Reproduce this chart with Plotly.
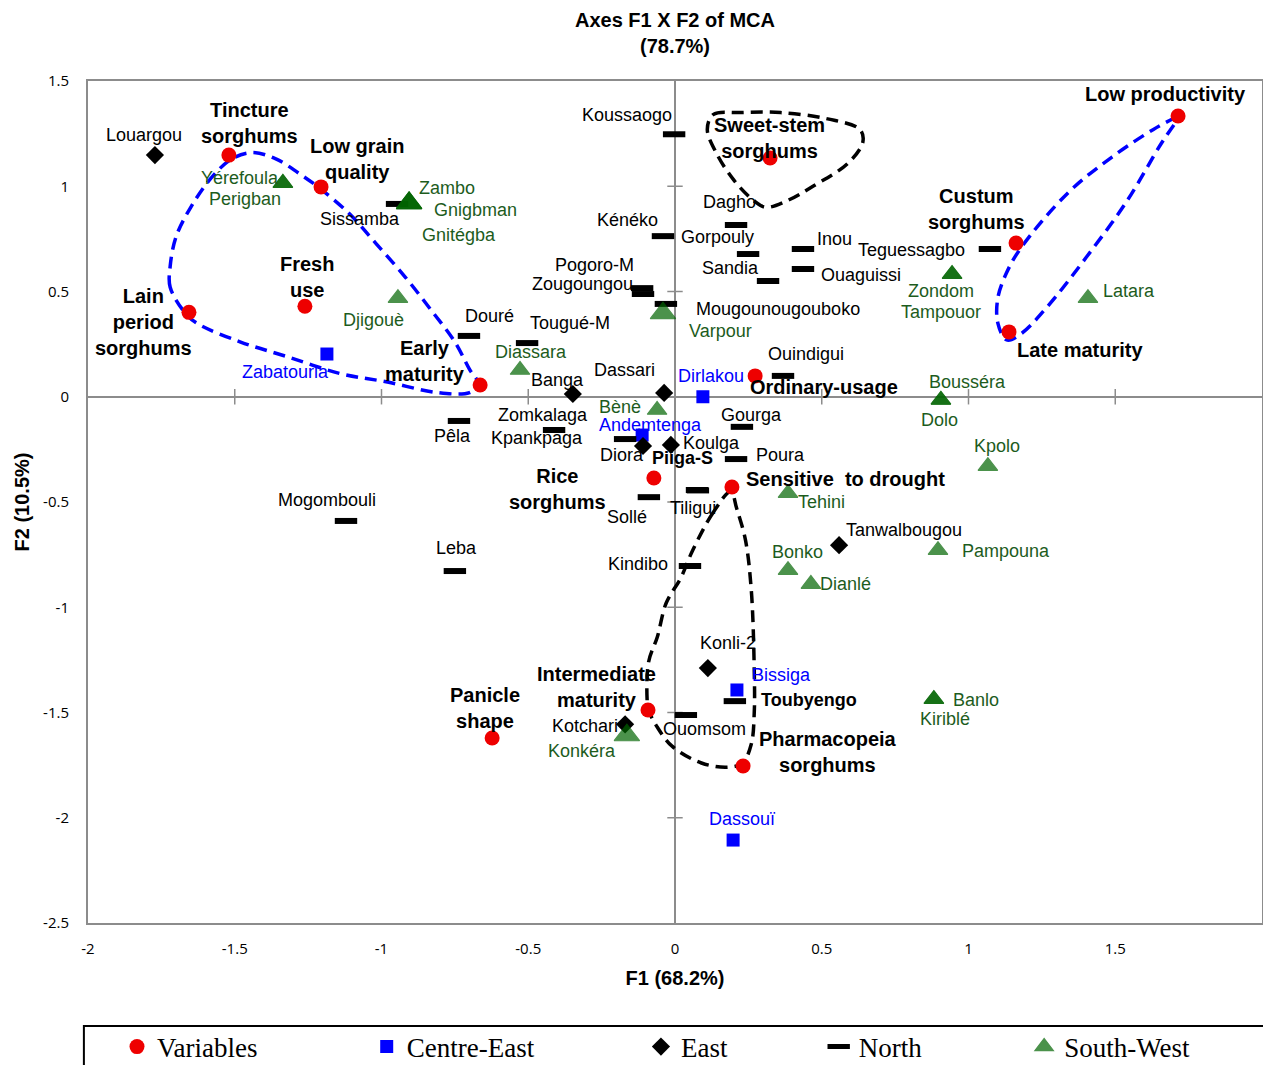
import plotly.graph_objects as go

# ------------------------------------------------------------------ data
var_names = ["Tincture sorghums", "Low grain quality", "Fresh use", "Lain period sorghums",
             "Early maturity", "Sweet-stem sorghums", "Low productivity", "Custum sorghums",
             "Late maturity", "Ordinary-usage", "Rice sorghums", "Sensitive  to drought",
             "Intermediate maturity", "Panicle shape", "Pharmacopeia sorghums"]
var_f1 = [-1.520, -1.206, -1.261, -1.656, -0.664, 0.324, 1.714, 1.162,
          1.138, 0.273, -0.072, 0.194, -0.092, -0.623, 0.232]
var_f2 = [1.148, 0.997, 0.430, 0.401, 0.056, 1.134, 1.334, 0.730,
          0.308, 0.099, -0.386, -0.429, -1.488, -1.621, -1.754]

ce_names = ["Zabatourla", "Dirlakou", "Andemtenga", "Bissiga", "Dassouï"]
ce_f1 = [-1.186, 0.095, -0.112, 0.211, 0.198]
ce_f2 = [0.203, 0.000, -0.182, -1.393, -2.106]

east_names = ["Louargou", "Banga", "Dassari", "Diora", "Koulga", "Tanwalbougou", "Konli-2", "Kotchari"]
east_f1 = [-1.772, -0.348, -0.037, -0.109, -0.014, 0.559, 0.112, -0.170]
east_f2 = [1.148, 0.013, 0.018, -0.234, -0.229, -0.705, -1.289, -1.556]

north_names = ["Koussaogo", "Sissamba", "Kénéko", "Dagho", "Gorpouly", "Sandia", "Inou",
               "Ouaguissi", "Teguessagbo", "Pogoro-M", "Zougoungou", "Mougounougouboko",
               "Douré", "Tougué-M", "Ouindigui", "Pêla", "Mogombouli", "Leba", "Zomkalaga",
               "Kpankpaga", "Gourga", "Poura", "Piiga-S", "Tiligui", "Sollé", "Kindibo",
               "Ouomsom", "Toubyengo"]
north_f1 = [-0.003, -0.947, -0.041, 0.208, 0.249, 0.317, 0.436,
            0.436, 1.073, -0.112, -0.109, -0.031,
            -0.702, -0.504, 0.368, -0.736, -1.121, -0.750, -0.412,
            -0.170, 0.228, 0.208, 0.075, 0.078, -0.089, 0.051,
            0.037, 0.204]
north_f2 = [1.247, 0.916, 0.763, 0.816, 0.678, 0.550, 0.702,
            0.607, 0.702, 0.516, 0.488, 0.441,
            0.289, 0.255, 0.099, -0.115, -0.590, -0.828, -0.158,
            -0.201, -0.143, -0.296, -0.443, -0.445, -0.477, -0.804,
            -1.512, -1.446]

sw_names = ["Yérefoula", "Perigban", "Zambo", "Gnigbman", "Gnitégba", "Djigouè", "Varpour",
            "Diassara", "Bènè", "Zondom", "Tampouor", "Latara", "Bousséra", "Dolo", "Kpolo",
            "Tehini", "Bonko", "Dianlé", "Pampouna", "Banlo", "Kiriblé", "Konkéra"]
sw_f1 = [-1.336, -1.336, -0.906, -0.906, -0.906, -0.944, -0.041,
         -0.528, -0.061, 0.944, 0.944, 1.407, 0.906, 0.906, 1.066,
         0.385, 0.385, 0.463, 0.896, 0.882, 0.882, -0.164]
sw_f2 = [1.015, 1.015, 0.920, 0.920, 0.920, 0.468, 0.397,
         0.127, -0.063, 0.582, 0.582, 0.468, -0.015, -0.015, -0.330,
         -0.458, -0.824, -0.890, -0.729, -1.437, -1.437, -1.608]

x_tick_vals = [-2, -1.5, -1, -0.5, 0, 0.5, 1, 1.5, 2]
x_tick_text = ["-2", "-1.5", "-1", "-0.5", "0", "0.5", "1", "1.5", "2"]
y_tick_vals = [-2.5, -2, -1.5, -1, -0.5, 0, 0.5, 1, 1.5]
y_tick_text = ["-2.5", "-2", "-1.5", "-1", "-0.5", "0", "0.5", "1", "1.5"]

# hand-drawn grouping loops (F1, F2)
loop_blue_left_f1 = [-1.67, -1.72, -1.72, -1.70, -1.65, -1.58, -1.51, -1.44, -1.36, -1.28, -1.21, -1.11,
                     -1.02, -0.92, -0.83, -0.75, -0.70, -0.67, -0.70, -0.81, -0.98, -1.14, -1.32,
                     -1.48, -1.63, -1.67]
loop_blue_left_f2 = [0.40, 0.52, 0.62, 0.76, 0.90, 1.04, 1.13, 1.16, 1.13, 1.06, 0.99, 0.87,
                     0.73, 0.57, 0.41, 0.26, 0.13, 0.06, 0.02, 0.02, 0.07, 0.11, 0.19,
                     0.26, 0.35, 0.40]
loop_blue_right_f1 = [1.71, 1.63, 1.49, 1.34, 1.18, 1.13, 1.10, 1.10, 1.13, 1.18, 1.27, 1.40, 1.54, 1.66, 1.72]
loop_blue_right_f2 = [1.33, 1.27, 1.14, 0.97, 0.71, 0.59, 0.47, 0.35, 0.27, 0.30, 0.43, 0.66, 0.93, 1.21, 1.33]
loop_black_top_f1 = [0.11, 0.13, 0.22, 0.36, 0.52, 0.63, 0.64, 0.59, 0.47, 0.38, 0.31, 0.27, 0.20, 0.14, 0.11]
loop_black_top_f2 = [1.27, 1.34, 1.35, 1.35, 1.32, 1.27, 1.21, 1.11, 1.00, 0.93, 0.90, 0.93, 1.03, 1.16, 1.27]
loop_black_bottom_f1 = [0.19, 0.13, 0.06, 0.02, -0.03, -0.06, -0.09, -0.095, -0.09, -0.06, -0.01, 0.09,
                        0.18, 0.23, 0.26, 0.27, 0.27, 0.26, 0.24, 0.21, 0.19]
loop_black_bottom_f2 = [-0.45, -0.55, -0.73, -0.86, -0.98, -1.14, -1.26, -1.44, -1.49, -1.57, -1.66, -1.74,
                        -1.76, -1.74, -1.65, -1.50, -1.30, -0.92, -0.68, -0.53, -0.45]

# ------------------------------------------------------------------ label styling (pixel offsets)
var_display = {
    "Tincture sorghums": "Tincture<br>sorghums", "Low grain quality": "Low grain<br>quality",
    "Fresh use": "Fresh<br>use", "Lain period sorghums": "Lain<br>period<br>sorghums",
    "Early maturity": "Early<br>maturity", "Sweet-stem sorghums": "Sweet-stem<br>sorghums",
    "Custum sorghums": "Custum<br>sorghums", "Rice sorghums": "Rice<br>sorghums",
    "Intermediate maturity": "Intermediate<br>maturity", "Panicle shape": "Panicle<br>shape",
    "Pharmacopeia sorghums": "Pharmacopeia<br>sorghums",
}
offsets = {
    "Tincture sorghums": (21, -32), "Low grain quality": (36, -28), "Fresh use": (2, -29),
    "Lain period sorghums": (-45, 10), "Early maturity": (-55, -24), "Sweet-stem sorghums": (-1, -20),
    "Low productivity": (-13, -22), "Custum sorghums": (-40, -34), "Late maturity": (71, 18),
    "Ordinary-usage": (69, 11), "Rice sorghums": (-96, 11), "Sensitive  to drought": (114, -8),
    "Intermediate maturity": (-52, -23), "Panicle shape": (-7, -30), "Pharmacopeia sorghums": (85, -14),
    "Zabatourla": (-41, 18), "Dirlakou": (8, -21), "Andemtenga": (8, -10), "Bissiga": (45, -15),
    "Dassouï": (9, -21),
    "Louargou": (-11, -20), "Banga": (-15, -14), "Dassari": (-40, -23), "Diora": (-21, 9),
    "Koulga": (41, -2), "Tanwalbougou": (65, -15), "Konli-2": (20, -25), "Kotchari": (-40, 2),
    "Koussaogo": (-47, -19), "Sissamba": (-37, 15), "Kénéko": (-35, -16), "Dagho": (-7, -23),
    "Gorpouly": (-31, -17), "Sandia": (-38, -13), "Inou": (32, -10), "Ouaguissi": (58, 6),
    "Teguessagbo": (-78, 1), "Pogoro-M": (-48, -23), "Zougoungou": (-61, -10),
    "Mougounougouboko": (112, 5), "Douré": (21, -20), "Tougué-M": (43, -20), "Ouindigui": (23, -22),
    "Pêla": (-6, 15), "Mogombouli": (-19, -21), "Leba": (2, -23), "Zomkalaga": (-11, -15),
    "Kpankpaga": (-88, -1), "Gourga": (10, -12), "Poura": (44, -4), "Piiga-S": (-15, -32),
    "Tiligui": (-5, 18), "Sollé": (-22, 20), "Kindibo": (-52, -2), "Ouomsom": (19, 14),
    "Toubyengo": (74, -1),
    "Yérefoula": (-43, -5), "Perigban": (-38, 16), "Zambo": (38, -15), "Gnigbman": (66, 7),
    "Gnitégba": (50, 32), "Djigouè": (-24, 22), "Varpour": (58, 18), "Diassara": (11, -18),
    "Bènè": (-37, -3), "Zondom": (-11, 17), "Tampouor": (-11, 38), "Latara": (41, -7),
    "Bousséra": (27, -18), "Dolo": (-1, 20), "Kpolo": (9, -20), "Tehini": (33, 9),
    "Bonko": (9, -18), "Dianlé": (35, 0), "Pampouna": (68, 1), "Banlo": (42, 1),
    "Kiriblé": (11, 20), "Konkéra": (-45, 16),
}
bold_north = {"Piiga-S", "Toubyengo"}
big_triangles = {"Zambo", "Gnigbman", "Gnitégba", "Varpour", "Konkéra"}

SANS = "Liberation Sans, Arial, sans-serif"
SERIF = "Liberation Serif, Times New Roman, serif"
RED = "#EE0000"
BLUE = "#0000FF"
GREEN = "#006400"
GREEN_TXT = "#1D5C1D"
AXIS_GREY = "#8C8C8C"

fig = go.Figure()

# grouping loops
for lx, ly, col in [(loop_blue_left_f1, loop_blue_left_f2, BLUE),
                    (loop_blue_right_f1, loop_blue_right_f2, BLUE),
                    (loop_black_top_f1, loop_black_top_f2, "black"),
                    (loop_black_bottom_f1, loop_black_bottom_f2, "black")]:
    fig.add_trace(go.Scatter(x=lx, y=ly, mode="lines", showlegend=False, hoverinfo="skip",
                             line=dict(color=col, width=3.5, dash="12px,7px",
                                       shape="spline", smoothing=1.0)))

# tick crosses on the zero axes
xt_inner = [v for v in x_tick_vals if v not in (0, -2, 2)]
yt_inner = [v for v in y_tick_vals if v not in (0, -2.5, 1.5)]
fig.add_trace(go.Scatter(x=xt_inner, y=[0] * len(xt_inner), mode="markers", showlegend=False,
                         hoverinfo="skip",
                         marker=dict(symbol="line-ns", size=11, line=dict(color=AXIS_GREY, width=1.5))))
fig.add_trace(go.Scatter(x=[0] * len(yt_inner), y=yt_inner, mode="markers", showlegend=False,
                         hoverinfo="skip",
                         marker=dict(symbol="line-ew", size=11, line=dict(color=AXIS_GREY, width=1.5))))

# series
fig.add_trace(go.Scatter(x=var_f1, y=var_f2, mode="markers", name="Variables", text=var_names,
                         legend="legend",
                         marker=dict(symbol="circle", size=15, color=RED)))
fig.add_trace(go.Scatter(x=ce_f1, y=ce_f2, mode="markers", name="Centre-East", text=ce_names,
                         legend="legend2",
                         marker=dict(symbol="square", size=13, color=BLUE)))
fig.add_trace(go.Scatter(x=east_f1, y=east_f2, mode="markers", name="East", text=east_names,
                         legend="legend3",
                         marker=dict(symbol="diamond", size=14, color="black")))
fig.add_trace(go.Scatter(x=north_f1, y=north_f2, mode="markers", name="North", text=north_names,
                         legend="legend4",
                         marker=dict(symbol="line-ew", size=16, color="black",
                                     line=dict(color="black", width=6))))
fig.add_trace(go.Scatter(x=sw_f1, y=sw_f2, mode="markers", name="South-West", text=sw_names,
                         legend="legend5",
                         marker=dict(symbol="triangle-up",
                                     size=[22 if n in big_triangles else 17 for n in sw_names],
                                     color=GREEN, line=dict(color=GREEN, width=1.2))))

# point labels
def add_labels(names, xs, ys, color, size, bold=False, display=None, bold_set=()):
    for n, x, y in zip(names, xs, ys):
        dx, dy = offsets[n]
        txt = display.get(n, n) if display else n
        b = bold or n in bold_set
        if b:
            txt = "<b>" + txt + "</b>"
        fig.add_annotation(x=x, y=y, text=txt, showarrow=False, xshift=dx, yshift=-dy,
                           xanchor="center", yanchor="middle",
                           font=dict(family=SANS, size=size, color=color))

add_labels(var_names, var_f1, var_f2, "black", 20, bold=True, display=var_display)
add_labels(ce_names, ce_f1, ce_f2, BLUE, 18)
add_labels(east_names, east_f1, east_f2, "black", 18)
add_labels(north_names, north_f1, north_f2, "black", 18, bold_set=bold_north)
add_labels(sw_names, sw_f1, sw_f2, GREEN_TXT, 18)

# legend frame
fig.add_shape(type="rect", xref="paper", yref="paper", x0=-0.0035, x1=1.01, y0=-0.19, y1=-0.1223,
              line=dict(color="black", width=2), fillcolor="rgba(0,0,0,0)")

leg_common = dict(orientation="h", yanchor="middle", y=-0.1473, xanchor="left",
                  bgcolor="rgba(0,0,0,0)", borderwidth=0,
                  font=dict(family=SERIF, size=27, color="black"))
leg_x = [0.0247, 0.2374, 0.4710, 0.6224, 0.7974]

fig.update_layout(
    width=1263, height=1065,
    margin=dict(l=88, r=1, t=81, b=142, autoexpand=False),
    paper_bgcolor="white", plot_bgcolor="white",
    title=dict(text="<b>Axes F1 X F2 of MCA<br>(78.7%)</b>", x=0.5, xref="paper", xanchor="center",
               y=0.975, yref="container", yanchor="top",
               font=dict(family=SANS, size=20, color="black")),
    xaxis=dict(range=[-2, 2], tickvals=x_tick_vals, ticktext=x_tick_text, showgrid=False,
               zeroline=True, zerolinecolor=AXIS_GREY, zerolinewidth=2,
               showline=True, mirror=True, linecolor=AXIS_GREY, linewidth=2,
               ticks="outside", ticklen=11, tickcolor="rgba(0,0,0,0)",
               tickfont=dict(family="Open Sans, sans-serif", size=15, color="black"),
               title=dict(text="<b>F1 (68.2%)</b>", standoff=14,
                          font=dict(family=SANS, size=20, color="black"))),
    yaxis=dict(range=[-2.5, 1.5], tickvals=y_tick_vals, ticktext=y_tick_text, showgrid=False,
               zeroline=True, zerolinecolor=AXIS_GREY, zerolinewidth=2,
               showline=True, mirror=True, linecolor=AXIS_GREY, linewidth=2,
               ticks="outside", ticklen=14, tickcolor="rgba(0,0,0,0)",
               tickfont=dict(family="Open Sans, sans-serif", size=15, color="black"),
               title=dict(text="<b>F2 (10.5%)</b>", standoff=8,
                          font=dict(family=SANS, size=20, color="black"))),
    legend=dict(x=leg_x[0], **leg_common),
    legend2=dict(x=leg_x[1], **leg_common),
    legend3=dict(x=leg_x[2], **leg_common),
    legend4=dict(x=leg_x[3], **leg_common),
    legend5=dict(x=leg_x[4], **leg_common),
)

fig.write_html("out.html", config={"displayModeBar": False},
               post_script="document.body.style.margin='0';")
